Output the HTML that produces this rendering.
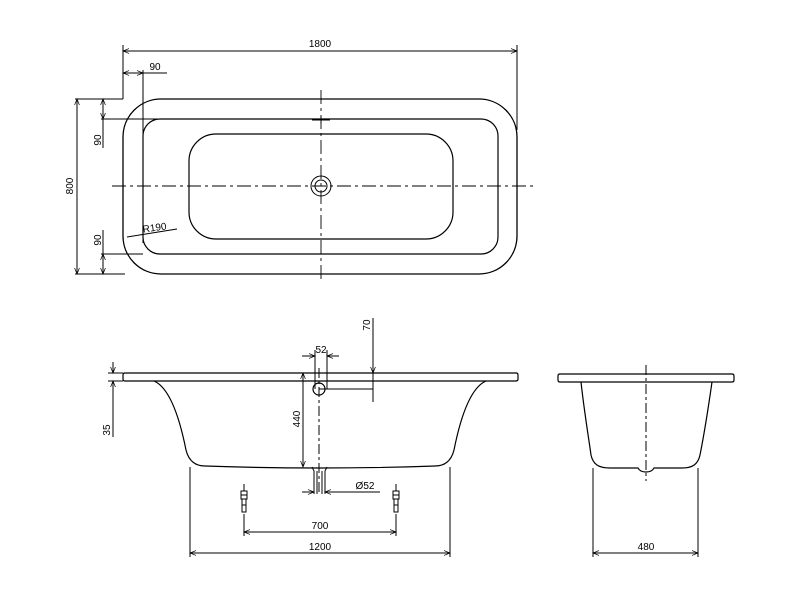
<!DOCTYPE html>
<html><head><meta charset="utf-8"><style>
html,body{margin:0;padding:0;background:#fff;}
svg{display:block;}
text{font-family:"Liberation Sans","DejaVu Sans",sans-serif;font-size:10px;fill:#000;}
</style></head><body>
<svg width="800" height="600" viewBox="0 0 800 600" xmlns="http://www.w3.org/2000/svg">
<defs>
<marker id="a" viewBox="0 0 10 10" refX="10" refY="5" markerWidth="8" markerHeight="6" orient="auto-start-reverse" markerUnits="userSpaceOnUse"><path d="M0,1 L10,5 L0,9" fill="none" stroke="#000" stroke-width="1.2"/></marker>
</defs>
<g fill="none" stroke="#000" stroke-width="1">
<!-- TOP VIEW -->
<rect x="123" y="99" width="394" height="175" rx="38" ry="38" stroke-width="1.3"/>
<rect x="143" y="119" width="355" height="135" rx="17" ry="17" stroke-width="1.2"/>
<rect x="189" y="134" width="264" height="105" rx="27" ry="27" stroke-width="1.2"/>
<circle cx="321" cy="186" r="10"/>
<circle cx="321" cy="186" r="6"/>
<path d="M312,120 h18 M321,116 v8" stroke-width="1"/>
<path d="M112,186 H535" stroke-dasharray="14,4,3,4" stroke-width="0.9"/>
<path d="M321,90 V282" stroke-dasharray="14,4,3,4" stroke-width="0.9"/>
<!-- 1800 -->
<path d="M123,45 V99 M517,45 V130"/>
<path d="M123,51 H517" marker-start="url(#a)" marker-end="url(#a)"/>
<!-- 90 horizontal -->
<path d="M143,70 V243"/>
<path d="M123,73 H143" marker-start="url(#a)" marker-end="url(#a)"/>
<path d="M143,73 H167"/>
<!-- 800 -->
<path d="M75,99 H123 M75,274 H125"/>
<path d="M77,99 V274" marker-start="url(#a)" marker-end="url(#a)"/>
<!-- 90 verticals -->
<path d="M101,119 H190 M101,254 H143"/>
<path d="M103,99 V119" marker-start="url(#a)" marker-end="url(#a)"/>
<path d="M103,119 V148"/>
<path d="M103,254 V274" marker-start="url(#a)" marker-end="url(#a)"/>
<path d="M103,230 V254"/>
<!-- R190 -->
<path d="M127,237 L177,229"/>
<!-- SIDE VIEW -->
<path d="M125,373 H516 Q518,373 518,375 V379 Q518,381 516,381 H125 Q123,381 123,379 V375 Q123,373 125,373 Z" stroke-width="1.2"/>
<path d="M154,381 C170,388 180,420 186,450 C189,462 196,466 205,466 Q320,470 435,466 C444,466 451,462 454,450 C460,420 470,388 486,381" stroke-width="1.2"/>
<path d="M319,368 V492" stroke-dasharray="10,3,3,3"/>
<circle cx="319" cy="389" r="6" stroke-width="1.2"/>
<path d="M319,389 H373"/>
<path d="M373,318 V402"/>
<path d="M373,362 V373" marker-end="url(#a)"/>
<!-- 52 -->
<path d="M315,350 V389 M327,350 V389"/>
<path d="M302,356 H315" marker-end="url(#a)"/>
<path d="M339,356 H327" marker-end="url(#a)"/>
<!-- 440 -->
<path d="M303,373 V467" marker-start="url(#a)" marker-end="url(#a)"/>
<!-- 35 -->
<path d="M108,373 H123 M108,381 H123"/>
<path d="M113,362 V373" marker-end="url(#a)"/>
<path d="M113,392 V381" marker-end="url(#a)"/>
<path d="M113,381 V437"/>
<!-- drain pipe -->
<path d="M312,467 L314,471 V494 M327,467 L325,471 V494 M317,471 V494 M322,471 V494"/>
<path d="M302,492 H314" marker-end="url(#a)"/>
<path d="M380,492 H325" marker-end="url(#a)"/>
<!-- feet -->
<g id="foot">
<path d="M244,484 V491 M241,491 h6 v8 h-6 z M241,495 h6 M242,499 h4 v13 h-4 z M242,505 h4 M244,514 V536"/>
</g>
<g transform="translate(152,0)"><path d="M244,484 V491 M241,491 h6 v8 h-6 z M241,495 h6 M242,499 h4 v13 h-4 z M242,505 h4 M244,514 V536"/></g>
<path d="M244,532 H396" marker-start="url(#a)" marker-end="url(#a)"/>
<!-- 1200 -->
<path d="M190,467 V557 M450,467 V557"/>
<path d="M190,553 H450" marker-start="url(#a)" marker-end="url(#a)"/>
<!-- END VIEW -->
<path d="M560,374 H732 Q734,374 734,376 V380 Q734,382 732,382 H560 Q558,382 558,380 V376 Q558,374 560,374 Z" stroke-width="1.2"/>
<path d="M581,382 C584,410 589,440 591,455 C593,464 598,468 610,468 H638 Q640,472 646,472 Q652,472 654,468 H682 C693,468 698,464 700,455 C703,440 708,410 712,382" stroke-width="1.2"/>
<path d="M646,365 V481" stroke-dasharray="10,3,3,3"/>
<path d="M593,468 V557 M698,468 V557"/>
<path d="M593,553 H698" marker-start="url(#a)" marker-end="url(#a)"/>
</g>
<g>
<text x="320" y="47" text-anchor="middle">1800</text>
<text x="155" y="70" text-anchor="middle">90</text>
<text x="155" y="231" font-size="10" transform="rotate(-8 155 231)" text-anchor="middle">R190</text>
<text transform="translate(73,186) rotate(-90)" text-anchor="middle">800</text>
<text transform="translate(101,140) rotate(-90)" text-anchor="middle">90</text>
<text transform="translate(101,240) rotate(-90)" text-anchor="middle">90</text>
<text transform="translate(370,325) rotate(-90)" text-anchor="middle">70</text>
<text x="321" y="353" text-anchor="middle">52</text>
<text transform="translate(300,419) rotate(-90)" text-anchor="middle">440</text>
<text transform="translate(110,430) rotate(-90)" text-anchor="middle">35</text>
<text x="365" y="489" text-anchor="middle">Ø52</text>
<text x="320" y="529" text-anchor="middle">700</text>
<text x="320" y="550" text-anchor="middle">1200</text>
<text x="646" y="550" text-anchor="middle">480</text>
</g>
</svg>
</body></html>
